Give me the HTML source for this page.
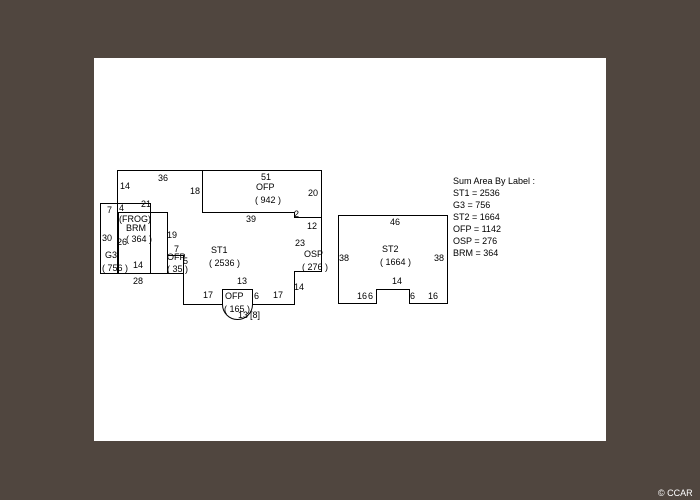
<!DOCTYPE html>
<html><head><style>
body{margin:0;width:700px;height:500px;background:#50463f;overflow:hidden;position:relative;font-family:"Liberation Sans",sans-serif}
#p{position:absolute;left:94px;top:58px;width:512px;height:383px;background:#fff}
svg{position:absolute;left:0;top:0}
text{font-size:9px;fill:#000;font-family:"Liberation Sans",sans-serif}
</style></head><body>
<div id="p"></div>
<svg width="700" height="500" viewBox="0 0 700 500">
<g fill="none" stroke="#000" stroke-width="1">
<path d="M117.5 273.5V170.5H321.5V271.5H294.5V304.5H252.5M222.5 304.5H183.5V255.5H167.5"/>
<path d="M202.5 170.5V212.5H294.5V217.5H321.5"/>
<rect x="100.5" y="203.5" width="50" height="70"/>
<rect x="118.5" y="212.5" width="49" height="61"/>
<path d="M150.5 273.5H183.5V255.5"/>
<path d="M222.5 304.5V289.5H252.5V304.5"/>
<path d="M222.5 304.5A15 15 0 0 0 252.5 304.5"/>
<path d="M338.5 303.5V215.5H447.5V303.5H409.5V289.5H376.5V303.5Z"/>
</g>
<text x="120" y="189">14</text><text x="158" y="181">36</text><text x="190" y="194">18</text>
<text x="261" y="180">51</text><text x="256" y="190">OFP</text><text x="255" y="203">( 942 )</text>
<text x="308" y="196">20</text><text x="294" y="217">2</text><text x="307" y="229">12</text>
<text x="246" y="222">39</text><text x="295" y="246">23</text><text x="304" y="257">OSP</text><text x="302" y="270">( 276 )</text>
<text x="107" y="213">7</text><text x="119" y="211">4</text><text x="141" y="207">21</text>
<text x="119" y="222">(FROG)</text><text x="126" y="231">BRM</text><text x="126" y="242">( 364 )</text>
<text x="102" y="241">30</text><text x="117" y="245">26</text><text x="167" y="238">19</text>
<text x="105" y="258">G3</text><text x="102" y="271">( 756 )</text><text x="133" y="268">14</text>
<text x="133" y="284">28</text><text x="174" y="252">7</text><text x="167" y="260">OFP</text>
<text x="183" y="264">5</text><text x="167" y="272">( 35 )</text>
<text x="211" y="253">ST1</text><text x="209" y="266">( 2536 )</text>
<text x="237" y="284">13</text><text x="203" y="298">17</text><text x="273" y="298">17</text>
<text x="294" y="290">14</text><text x="225" y="299">OFP</text><text x="254" y="299">6</text>
<text x="224" y="312">( 165 )</text><text x="238" y="318">13</text><text x="250" y="318">[8]</text>
<text x="390" y="225">46</text><text x="382" y="252">ST2</text><text x="380" y="265">( 1664 )</text>
<text x="339" y="261">38</text><text x="434" y="261">38</text><text x="392" y="284">14</text>
<text x="357" y="299">16</text><text x="368" y="299">6</text><text x="410" y="299">6</text><text x="428" y="299">16</text>
<text x="453" y="184">Sum Area By Label :</text>
<text x="453" y="196">ST1 = 2536</text><text x="453" y="208">G3 = 756</text>
<text x="453" y="220">ST2 = 1664</text><text x="453" y="232">OFP = 1142</text>
<text x="453" y="244">OSP = 276</text><text x="453" y="256">BRM = 364</text>
<text x="658" y="496" style="fill:#fff;font-size:9px">© CCAR</text>
</svg>
</body></html>
